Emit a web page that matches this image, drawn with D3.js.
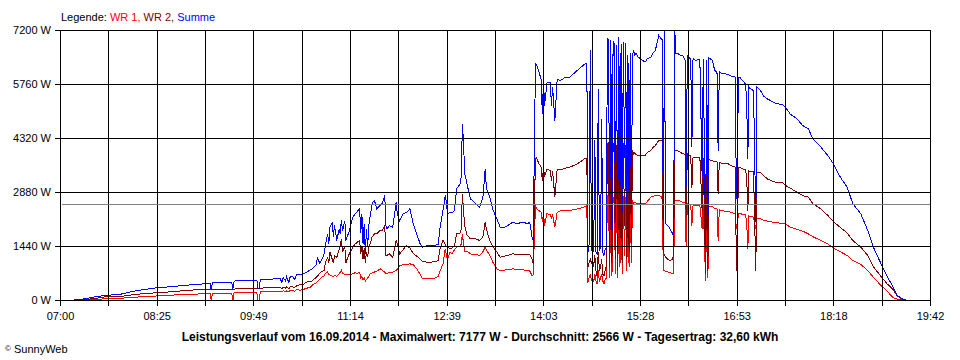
<!DOCTYPE html>
<html><head><meta charset="utf-8">
<script src="https://cdn.jsdelivr.net/npm/d3@7"></script>
<style>
html,body{margin:0;padding:0;background:#fff;}
svg{display:block;font-family:"Liberation Sans",Arial,sans-serif;}
</style></head><body>
<svg id="c" width="960" height="360"></svg>
<script>
// ---- data ----
const times = [
"07:12","07:18","07:29","07:40","07:47","07:53","08:00","08:11","08:15","08:24",
"08:36","08:47","08:56","09:08","09:11","09:12","09:13","09:30","09:31","09:32",
"09:34","09:52","09:53","09:54","09:55","10:03","10:09","10:12","10:14","10:15",
"10:17","10:18","10:20","10:21","10:23","10:25","10:27","10:30","10:33","10:36",
"10:39","10:41","10:44","10:45","10:47","10:49","10:51","10:52","10:54","10:55",
"10:56","10:58","10:59","11:00","11:02","11:04","11:05","11:06","11:07","11:09",
"11:10","11:11","11:13","11:16","11:18","11:20","11:22","11:23","11:24","11:25",
"11:26","11:27","11:28","11:29","11:30","11:31","11:33","11:35","11:37","11:40",
"11:42","11:44","11:45","11:46","11:48","11:51","11:54","11:55","11:57","12:00",
"12:03","12:06","12:09","12:12","12:15","12:17","12:21","12:24","12:28","12:31",
"12:32","12:35","12:37","12:38","12:39","12:41","12:43","12:45","12:47","12:50",
"12:51","12:52","12:53","12:54","12:56","12:59","13:01","13:05","13:07","13:10",
"13:12","13:13","13:16","13:19","13:22","13:25","13:28","13:31","13:36","13:40",
"13:45","13:49","13:51","13:53","13:54","13:56","13:57","13:59","14:01","14:02",
"14:03","14:04","14:06","14:09","14:10","14:11","14:13","14:15","14:18","14:22",
"14:26","14:31","14:35","14:39","14:41","14:42","14:43","14:44","14:45","14:46",
"14:47","14:48","14:49","14:50","14:51","14:52","14:53","14:54","14:55","14:56",
"14:57","14:58","14:59","15:00","15:01","15:02","15:03","15:04","15:05","15:06",
"15:07","15:08","15:09","15:10","15:11","15:12","15:13","15:14","15:15","15:16",
"15:17","15:18","15:19","15:20","15:21","15:22","15:23","15:24","15:26","15:28",
"15:30","15:32","15:34","15:37","15:39","15:41","15:44","15:46","15:47","15:48",
"15:49","15:50","15:52","15:54","15:56","15:57","15:58","15:59","16:00","16:03",
"16:05","16:07","16:08","16:09","16:10","16:12","16:13","16:14","16:16","16:18",
"16:20","16:22","16:23","16:25","16:26","16:27","16:28","16:31","16:33","16:35",
"16:36","16:37","16:40","16:42","16:45","16:47","16:51","16:52","16:54","16:55",
"16:57","17:00","17:01","17:02","17:03","17:04","17:07","17:09","17:10","17:13",
"17:16","17:19","17:22","17:26","17:28","17:32","17:35","17:39","17:45","17:50",
"17:55","17:59","18:06","18:12","18:17","18:23","18:29","18:34","18:41","18:47",
"18:52","18:58","19:04","19:09","19:13","19:17","19:22"
];
const wr1 = [
10,15,30,45,50,60,80,98,105,120,
140,160,170,178,178,0,185,190,0,200,
205,205,0,0,230,240,240,250,230,260,
240,255,235,260,270,250,300,270,300,330,
360,420,470,500,560,620,660,720,760,700,
680,650,640,660,650,700,760,800,720,700,
690,700,680,711,740,720,755,600,640,540,
620,520,560,600,640,700,740,760,780,844,
800,760,720,711,760,760,800,840,933,950,
960,978,950,850,700,578,580,578,600,640,
750,978,1378,1200,1100,1289,1250,1350,1422,1450,
1500,1778,1500,1300,1320,1244,1230,1220,1200,1300,
1422,1350,1200,1000,850,800,810,820,844,830,
820,800,790,667,680,2533,2450,2400,2350,2100,
2320,2000,2311,2300,2200,2300,1950,2350,2400,2400,
2400,2430,2460,2500,2533,480,600,700,550,600,
500,700,520,450,800,500,600,700,520,450,
550,600,2800,2750,600,2780,650,2750,2700,700,
2700,600,2800,900,2750,700,2780,1200,2750,800,
2700,900,2700,1000,2650,2600,2620,2600,2580,2580,
2580,2578,2640,2756,2780,2800,2800,2780,2700,800,
800,780,760,740,720,730,2667,2667,2680,2650,
2620,2600,1422,2578,2578,2560,2000,2540,2533,2533,
2533,1900,2533,533,2530,600,2520,2510,2444,2444,
1600,2420,2400,2380,2380,2356,2311,1900,2330,2330,
2300,2280,2100,1378,2250,2240,2222,1900,2200,2180,
2133,2120,2100,2080,2070,2060,2044,1956,1900,1850,
1778,1700,1600,1511,1400,1300,1200,1067,960,800,
620,420,250,80,40,10,0
];
const wr2 = [
10,15,50,100,100,110,140,178,190,205,
230,260,280,290,293,293,295,300,300,305,
310,325,330,330,330,340,347,350,320,355,
330,360,310,360,375,340,400,420,440,500,
500,540,620,650,720,780,790,1020,1150,1000,
1290,1100,1000,1200,1150,1350,1470,1640,1300,1450,
1000,1100,1250,1420,1500,1556,1600,1250,1450,1100,
1400,1000,1300,1150,1400,1500,1700,1778,1780,1867,
1870,2000,1200,1200,1250,1150,1600,1500,1245,1350,
1467,1400,1250,1180,1110,1050,1020,1020,1040,1060,
1333,1600,1500,1440,1450,1378,1400,1450,1778,1800,
1900,2844,2400,2000,1750,1644,1660,1630,1600,1700,
2089,1900,1600,1422,1300,1155,1180,1200,1244,1230,
1240,1230,1220,1100,978,3778,3800,3650,3556,3200,
3550,3300,3500,3467,3200,3450,2756,3500,3480,3530,
3556,3620,3689,3778,3800,900,1000,1100,1000,1100,
900,1200,800,650,1300,800,900,1100,700,650,
800,900,4180,4200,900,4150,1000,4200,4100,1100,
4150,800,4222,1500,4180,1000,4200,2000,4150,1100,
4100,1300,4089,1500,4000,3900,3950,3900,3867,3870,
3880,3867,3950,4000,4080,4133,4267,4250,4267,1300,
1200,1150,1100,1067,1100,1200,4000,4000,4000,3950,
3911,3900,2222,3911,3880,3850,3000,3822,3822,3822,
3822,2400,3800,711,3780,800,3750,3733,3700,3700,
2844,3680,3650,3644,3644,3600,3556,800,3550,3556,
3520,3480,3300,2400,3450,3440,3430,800,3420,3422,
3330,3244,3200,3156,3150,3156,3070,3000,2889,2800,
2756,2578,2444,2270,2100,1950,1800,1600,1422,1200,
900,667,444,300,120,40,0
];
const summe = [
20,30,90,140,150,170,220,285,300,340,
365,400,420,450,455,295,470,480,310,510,
533,533,330,320,560,565,580,600,480,620,
520,640,470,620,650,560,700,680,720,760,
820,860,960,1130,1000,1100,1250,1470,1780,1500,
1950,2090,1700,2000,1600,1900,1780,2150,1850,2130,
1600,1700,1850,2220,2300,2380,2450,1800,2300,1500,
2050,1250,1900,1420,2000,2200,2600,2667,2450,2533,
2600,2800,2000,1900,2000,1955,2620,2300,2133,2310,
2350,2444,2044,1778,1510,1420,1460,1467,1470,1500,
1867,2400,2800,2600,2310,2350,2330,2400,2978,3110,
3300,4710,4200,3400,3110,2710,2670,2533,2489,2750,
3510,3000,2755,2400,2200,1955,1950,1980,2090,2050,
2090,2050,2090,1700,1600,6311,6300,6100,5900,4978,
5850,5200,5800,5822,5200,5700,4800,5900,5867,5950,
5956,6090,6200,6300,6330,1290,1500,6685,1330,1450,
1300,4267,1300,1250,5644,1350,1400,4850,1280,1200,
1350,1400,6978,6950,1700,6950,1600,6900,6850,2200,
6800,1500,7022,2800,6850,2400,6900,3800,6870,2600,
6550,2700,6600,2200,6550,6640,6550,6600,6489,6450,
6400,6356,6450,6489,6600,6667,7067,6980,6950,2000,
7200,2044,2000,1900,1778,1850,7200,6600,6600,6533,
6533,6420,3022,6533,6480,6450,4089,6450,6400,6420,
6420,3289,6450,1511,6400,1600,6470,6400,6133,6100,
4000,6100,6044,6044,6020,5990,5956,2700,5956,5950,
5870,5778,5300,3778,5700,5650,5600,2100,5689,5600,
5450,5378,5330,5260,5244,5230,5156,4978,4844,4667,
4578,4311,4089,3867,3644,3289,3022,2578,2311,1867,
1422,1022,640,380,133,44,0
];
const yTicks = [0, 1440, 2880, 4320, 5760, 7200];
const xTickLabels = ["07:00","08:25","09:49","11:14","12:39","14:03","15:28","16:53","18:18","19:42"];
const dayStart = "07:00", dayEnd = "19:42";
const average = 2566;
const legendLabel = "Legende: ";
const seriesNames = ["WR 1", "WR 2", "Summe"];
const title = "Leistungsverlauf vom 16.09.2014 - Maximalwert: 7177 W - Durchschnitt: 2566 W - Tagesertrag: 32,60 kWh";
const credit = "SunnyWeb";

// ---- drawing ----
const colors = {"WR 1": "#ff0000", "WR 2": "#800000", "Summe": "#0000ff"};
const svg = d3.select("#c");
const parse = d3.timeParse("%H:%M");
const t0 = parse(dayStart), t1 = parse(dayEnd);
const x = d3.scaleTime().domain([t0, t1]).range([60.5, 930.5]);
const y = d3.scaleLinear().domain([0, 7200]).range([300.5, 30.5]);

const rows = times.map((t, i) => ({t: parse(t), wr1: wr1[i], wr2: wr2[i], summe: summe[i]}));

const plot = svg.append("g");
const mk = key => d3.line().x(d => x(d.t)).y(d => y(d[key]));
[["wr1","WR 1"],["wr2","WR 2"],["summe","Summe"]].forEach(([k, n]) => {
  plot.append("path").datum(rows).attr("d", mk(k))
    .attr("fill", "none").attr("stroke", colors[n]).attr("stroke-width", 1)
    .attr("shape-rendering", "crispEdges");
});

// grid (drawn above data, as in reference)
const nX = 18;
const span = t1 - t0;
const gridTimes = d3.range(nX + 1).map(i => new Date(+t0 + span * i / nX));
const grid = svg.append("g").attr("shape-rendering", "crispEdges");
grid.selectAll(".vx").data(gridTimes).join("line")
  .attr("x1", d => Math.round(x(d) - 0.5) + 0.5).attr("x2", d => Math.round(x(d) - 0.5) + 0.5)
  .attr("y1", y(7200)).attr("y2", y(0) + 5)
  .attr("stroke", "#000");
grid.selectAll(".hy").data(yTicks).join("line")
  .attr("x1", x(t0) - 6).attr("x2", x(t1))
  .attr("y1", d => y(d)).attr("y2", d => y(d))
  .attr("stroke", "#000");
// average line
grid.append("line").attr("x1", x(t0) + 1).attr("x2", x(t1) - 1)
  .attr("y1", Math.round(y(average) - 0.5) + 0.5).attr("y2", Math.round(y(average) - 0.5) + 0.5)
  .attr("stroke", "#808080");

// y labels
svg.append("g").selectAll("text").data(yTicks).join("text")
  .attr("x", 51).attr("y", d => y(d) + 3.5)
  .attr("text-anchor", "end").attr("font-size", 11).attr("fill", "#000")
  .text(d => d + " W");
// x labels (every second gridline)
svg.append("g").selectAll("text").data(xTickLabels).join("text")
  .attr("x", (d, i) => x(gridTimes[i * 2]))
  .attr("y", 320).attr("text-anchor", "middle").attr("font-size", 11).attr("fill", "#000")
  .text(d => d);

// legend
const lg = svg.append("text").attr("x", 61).attr("y", 21).attr("font-size", 11);
lg.append("tspan").attr("fill", "#000").text(legendLabel);
seriesNames.forEach((n, i) => {
  lg.append("tspan").attr("fill", colors[n]).text(n + (i < seriesNames.length - 1 ? ", " : ""));
});

// title
svg.append("text").attr("x", 480).attr("y", 341).attr("text-anchor", "middle")
  .attr("font-size", 12).attr("font-weight", "bold").attr("fill", "#000").text(title);

// credit
const cr = svg.append("text").attr("x", 5).attr("y", 353).attr("font-size", 11).attr("fill", "#000");
cr.append("tspan").attr("font-size", 8).attr("dy", -2).text("©");
cr.append("tspan").attr("dy", 2).text(" " + credit);
</script>
</body></html>
